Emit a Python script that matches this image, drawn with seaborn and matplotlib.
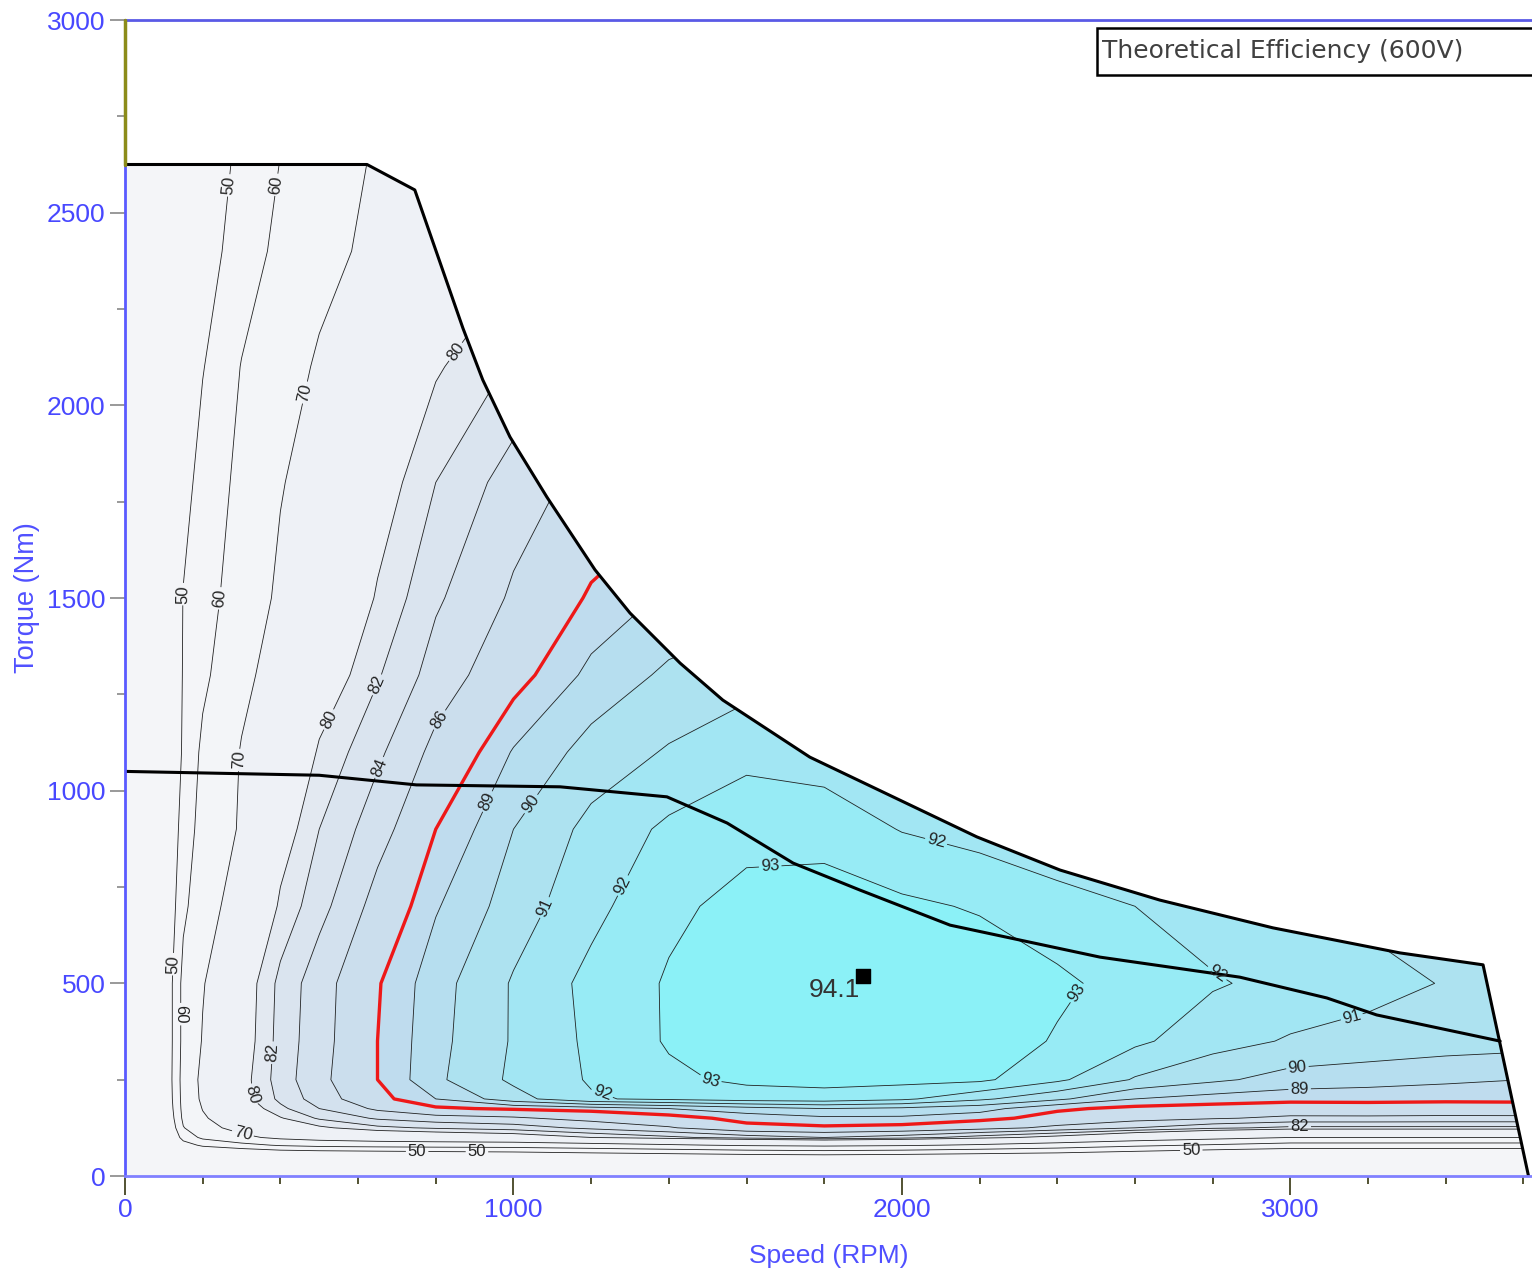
import numpy as np
import matplotlib
matplotlib.use("Agg")
import matplotlib.pyplot as plt
from matplotlib.patches import Polygon, Rectangle
from matplotlib.ticker import MultipleLocator
import seaborn as sns

sns.set_style("ticks")
plt.rcParams['font.family'] = ['Liberation Sans', 'DejaVu Sans']

#=======================
# efficiency map (speed in rpm, torque in Nm, efficiency in %)
speed_rpm = [0, 100, 150, 200, 300, 400, 500, 650, 800, 1000, 1200, 1400, 1600, 1800,
             2000, 2200, 2400, 2600, 2800, 3000, 3200, 3400, 3600, 3700]
torque_nm = [0, 40, 60, 80, 100, 125, 150, 175, 200, 250, 350, 500, 700, 900, 1100,
             1300, 1500, 1800, 2100, 2400, 2700]
eff_pct = [
    [0, 0, 0, 0, 0, 0, 0, 0, 0, 0, 0, 0, 0, 0, 0, 0, 0, 0, 0, 0, 0, 0, 0, 0],
    [0, 15, 20, 22, 24, 26, 27, 28, 29, 30, 31, 32, 34, 35, 34, 33, 32, 30, 27, 25, 25, 25, 25, 24],
    [0, 22, 33, 38, 41, 44, 45, 46, 47, 48, 50, 52, 54, 55, 54, 52, 50, 47, 44, 42, 42, 42, 42, 41],
    [0, 28, 45, 52, 57, 61, 63, 64, 64.5, 65, 67, 69, 71, 72, 71, 69, 66, 62, 59, 56, 56, 56, 56, 55],
    [0, 32, 54, 62, 68, 72, 74, 76, 77, 78, 80, 81.5, 83, 84, 83, 81, 79, 76, 73, 70, 70, 70, 70, 69],
    [0, 35, 59.5, 67, 73, 77, 79.5, 81.5, 82.3, 83, 84.5, 85.8, 87.6, 87.8, 87.6, 86.8, 85.5, 84, 82.5, 81.5, 81.5, 81.5, 81.5, 81],
    [0, 37, 62, 69, 76, 79.8, 82.3, 84.3, 85.2, 85.7, 86.7, 87.5, 88.4, 88.8, 88.8, 88.4, 87.5, 86.8, 86.2, 85.6, 85.6, 85.5, 85.5, 85],
    [0, 38.5, 63, 70.3, 78, 81.5, 84.0, 86.4, 87.8, 88.2, 88.5, 89.0, 89.6, 90.0, 89.8, 89.4, 88.2, 87.7, 87.5, 87.2, 87.3, 87.3, 87.4, 87],
    [0, 39.5, 63.5, 71.5, 79, 82.5, 85.0, 87.6, 89.0, 90.6, 91.9, 92.2, 92.5, 92.6, 92.2, 91.2, 90.2, 89.0, 88.6, 88.4, 88.4, 88.3, 88.3, 88],
    [0, 40, 64, 72, 79, 83, 85.5, 88, 89.8, 91.2, 92.1, 92.8, 93.2, 93.3, 93.3, 93.2, 92.2, 90.9, 90.2, 89.6, 89.4, 89.2, 89.0, 88.5],
    [0, 40, 63, 70.5, 78.5, 82.8, 85.3, 88.0, 89.7, 91.1, 92.2, 93.1, 93.7, 93.95, 93.9, 93.6, 92.9, 92.2, 91.4, 90.9, 90.7, 90.5, 90.4, 90.0],
    [0, 40, 63, 69.5, 78.3, 82.6, 85.2, 87.9, 89.6, 91.1, 92.3, 93.1, 93.8, 94.05, 94.0, 93.7, 93.2, 92.6, 92.1, 91.7, 91.3, 90.95, 90.8, 90.3],
    [0, 38, 58, 66, 74.5, 80.5, 83.3, 86.8, 88.9, 90.5, 91.7, 92.8, 93.3, 93.5, 93.2, 92.9, 92.4, 92.0, 91.5, 91.1, 90.8, 90.5, 90.2, 90.0],
    [0, 35, 55, 63.5, 71, 78.5, 82.0, 85.2, 88.0, 90.0, 91.3, 92.2, 92.7, 92.6, 91.95, 91.6, 91.2, 90.8, 90.5, 90.2, 90.0, 89.8, 89.6, 89.4],
    [0, 30, 52, 62, 70.5, 75.5, 80.4, 83.6, 86.6, 89.1, 90.4, 91.1, 91.7, 91.5, 91.0, 90.6, 90.2, 89.9, 89.6, 89.3, 89.1, 88.9, 88.7, 88.5],
    [0, 30, 51, 58, 68, 73.5, 78, 81.8, 84.9, 87.5, 89.3, 90.2, 90.6, 90.6, 90.2, 89.8, 89.4, 89.1, 88.8, 88.5, 88.3, 88.1, 87.9, 87.7],
    [0, 28, 50.5, 56, 65, 71.5, 75.5, 80.3, 83.7, 86.3, 88.2, 89.2, 89.6, 89.6, 89.3, 89.0, 88.7, 88.4, 88.1, 87.8, 87.6, 87.4, 87.2, 87.0],
    [0, 26, 46, 54, 62.5, 69.5, 73.5, 78.5, 82.0, 85.0, 86.7, 87.6, 88.0, 88.0, 87.8, 87.5, 87.2, 86.9, 86.6, 86.3, 86.1, 85.9, 85.7, 85.5],
    [0, 24, 42, 49.5, 60.4, 66.5, 71, 75.5, 79.7, 82.3, 84.2, 85.3, 85.8, 85.9, 85.7, 85.4, 85.1, 84.8, 84.5, 84.2, 84.0, 83.8, 83.6, 83.4],
    [0, 22, 38, 45, 55, 62.5, 67.5, 72, 76, 79.5, 81.8, 83.2, 84.0, 84.2, 84.0, 83.7, 83.4, 83.1, 82.8, 82.5, 82.3, 82.1, 81.9, 81.7],
    [0, 20, 35, 42, 52, 59.5, 65.5, 70.5, 74.5, 78.0, 80.5, 82.0, 82.8, 83.0, 82.8, 82.5, 82.2, 81.9, 81.6, 81.3, 81.0, 80.8, 80.6, 80.4],
]

# max torque envelope
env_speed = [0, 623, 746, 870, 921, 991, 1086, 1210, 1300, 1429, 1539, 1763, 1977,
             2193, 2407, 2664, 2955, 3282, 3496, 3613]
env_torque = [2625, 2625, 2559, 2200, 2066, 1918, 1762, 1573, 1461, 1331, 1235, 1087, 984,
              880, 794, 716, 644, 579, 548, 0]

# second (lower) limit curve
base_speed = [0, 500, 750, 1120, 1395, 1550, 1720, 1892, 2124, 2510, 2870, 3094, 3222, 3540]
base_torque = [1050, 1040, 1015, 1010, 984, 916, 812, 742, 651, 568, 516, 462, 418, 350]

peak_speed, peak_torque, peak_eff = 1900, 520, 94.1

fill_levels = [0, 50, 60, 70, 80, 82, 84, 86, 88, 89, 90, 91, 92, 93, 100]
band_colors = ['#f4f5f8', '#f4f5f8', '#f3f5f8', '#eef1f6', '#e3e9f1', '#dae4ef',
               '#d3e1ee', '#cbdeed', '#bfdcee', '#b6deef', '#ade2f0', '#a2e6f3',
               '#97ebf5', '#8bf1f7']
line_levels = [50, 60, 70, 80, 82, 84, 86, 89, 90, 91, 92, 93]

#=======================
# Plot
fig = plt.figure(figsize=(15.32, 12.72), dpi=100)
ax = fig.add_axes([125/1532, 96/1272, 1407/1532, 1156/1272])
ax.set_xlim(0, 3622)
ax.set_ylim(0, 3000)

S, T = np.meshgrid(speed_rpm, torque_nm)
Z = np.array(eff_pct)

env_pts = [(0, 0)] + list(zip(env_speed, env_torque))
clip = Polygon(env_pts, closed=True, transform=ax.transData, facecolor='none', edgecolor='none')
ax.add_patch(clip)

cf = ax.contourf(S, T, Z, levels=fill_levels, colors=band_colors)
cf.set_clip_path(clip)
cl = ax.contour(S, T, Z, levels=line_levels, colors='#222222', linewidths=0.6)
cl.set_clip_path(clip)
red = ax.contour(S, T, Z, levels=[88], colors='#ee1818', linewidths=2.4)
red.set_clip_path(clip)

label_spots = [(275, 2570), (407, 2570), (455, 2035), (844, 2144), (149, 1510), (237, 1500),
               (636, 1280), (528, 1183), (818, 1178), (283, 1080), (638, 1067), (952, 963),
               (1060, 955), (1068, 703), (1279, 755), (1660, 820), (2082, 846), (2829, 553),
               (2515, 431), (1508, 257), (3166, 384), (3019, 270), (3024, 215), (116, 550),
               (137, 420), (378, 320), (314, 210), (301, 98), (752, 60), (906, 67),
               (1225, 205), (2745, 60), (3024, 130)]
ax.clabel(cl, fmt='%d', fontsize=12, inline=True, inline_spacing=2, manual=label_spots)

sns.lineplot(x=env_speed, y=env_torque, sort=False, estimator=None, color='black',
             linewidth=2.2, ax=ax)
sns.lineplot(x=base_speed, y=base_torque, sort=False, estimator=None, color='black',
             linewidth=2.2, ax=ax)
ax.plot([0, 0], [env_torque[0], 3000], color='#8c8c1a', linewidth=2.5, clip_on=False, zorder=5)

ax.scatter([peak_speed], [peak_torque], marker='s', s=110, color='black', zorder=6)
ax.text(peak_speed - 8, peak_torque - 6, f'{peak_eff}', ha='right', va='top',
        fontsize=19, color='#333333', zorder=6)

# title box, cut by the right border like the original
ax.add_patch(Rectangle((0.6908, 0.9524), 0.40, 0.0407, transform=ax.transAxes,
                       facecolor='white', edgecolor='black', linewidth=1.8, clip_on=False, zorder=7))
ax.text(0.6944, 0.9735, 'Theoretical Efficiency (600V)', transform=ax.transAxes,
        ha='left', va='center', fontsize=18, color='#404040', family='DejaVu Sans', zorder=8)

ax.spines['right'].set_visible(False)
ax.spines['top'].set_color('#5a5ae6')
ax.spines['left'].set_color('#5a5aff')
ax.spines['bottom'].set_color('#8080ff')
for s in ['top', 'left', 'bottom']:
    ax.spines[s].set_linewidth(2)

ax.xaxis.set_major_locator(MultipleLocator(1000))
ax.xaxis.set_minor_locator(MultipleLocator(200))
ax.yaxis.set_major_locator(MultipleLocator(500))
ax.yaxis.set_minor_locator(MultipleLocator(250))
ax.tick_params(axis='x', which='major', length=14, width=1.3, color='#444422', pad=2)
ax.tick_params(axis='x', which='minor', length=6, width=1.3, color='#444422')
ax.tick_params(axis='y', which='major', length=11, width=1.2, color='#888888', pad=3)
ax.tick_params(axis='y', which='minor', length=6, width=1.2, color='#888888')
ax.tick_params(axis='both', which='major', labelsize=19, labelcolor='#4848ff')

ax.set_xlabel('Speed (RPM)', fontsize=19, color='#5050ff', labelpad=16)
ax.set_ylabel('Torque (Nm)', fontsize=19.5, color='#5050ff', labelpad=5)

fig.savefig('out.png', dpi=100, facecolor='white')
